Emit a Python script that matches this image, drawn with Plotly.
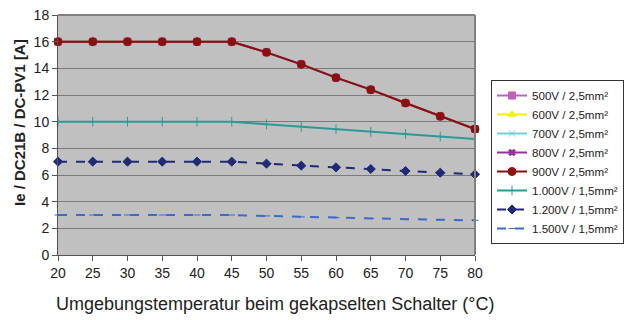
import plotly.graph_objects as go

temps = [20, 25, 30, 35, 40, 45, 50, 55, 60, 65, 70, 75, 80]
v500 = [16, 16, 16, 16, 16, 16, 15.2, 14.3, 13.3, 12.4, 11.4, 10.4, 9.45]
v600 = [16, 16, 16, 16, 16, 16, 15.2, 14.3, 13.3, 12.4, 11.4, 10.4, 9.45]
v700 = [16, 16, 16, 16, 16, 16, 15.2, 14.3, 13.3, 12.4, 11.4, 10.4, 9.45]
v800 = [16, 16, 16, 16, 16, 16, 15.2, 14.3, 13.3, 12.4, 11.4, 10.4, 9.45]
v900 = [16, 16, 16, 16, 16, 16, 15.2, 14.3, 13.3, 12.4, 11.4, 10.4, 9.45]
v1000 = [10, 10, 10, 10, 10, 10, 9.8, 9.62, 9.43, 9.24, 9.07, 8.88, 8.7]
v1200 = [7, 7, 7, 7, 7, 7, 6.85, 6.7, 6.57, 6.45, 6.3, 6.17, 6.05]
v1500 = [3, 3, 3, 3, 3, 3, 2.93, 2.86, 2.8, 2.74, 2.69, 2.64, 2.6]

names = ["500V / 2,5mm²", "600V / 2,5mm²", "700V / 2,5mm²", "800V / 2,5mm²",
         "900V / 2,5mm²", "1.000V / 1,5mm²", "1.200V / 1,5mm²", "1.500V / 1,5mm²"]
series = [v500, v600, v700, v800, v900, v1000, v1200, v1500]
colors = ["#C060C0", "#F0F000", "#70D0D8", "#993399", "#8B1010", "#2A9A98", "#1F2A78", "#3A6ACC"]
symbols = ["square", "triangle-up", "x-thin", "x", "circle", "line-ns", "diamond", "line-ew"]
sizes = [7, 7, 6, 6, 8, 7, 7, 5]
dashes = ["solid", "solid", "solid", "solid", "solid", "solid", "dash", "dash"]

fig = go.Figure()
for n, s, c, sym, sz, d in zip(names, series, colors, symbols, sizes, dashes):
    fig.add_trace(go.Scatter(
        x=temps, y=s, name=n, mode="lines+markers",
        line=dict(color=c, width=2, dash=d),
        marker=dict(symbol=sym, size=sz, color=c, line=dict(color=c, width=1)),
        cliponaxis=False,
    ))

fig.update_layout(
    width=631, height=320,
    margin=dict(l=58, r=156, t=15, b=65, autoexpand=False),
    paper_bgcolor="white", plot_bgcolor="#C0C0C0",
    font=dict(family="Liberation Sans, Arial", color="#222222"),
    showlegend=True,
    legend=dict(x=(491 - 58) / 417, y=(255 - 80) / 240, xanchor="left", yanchor="top",
                bordercolor="#333333", borderwidth=1, bgcolor="white",
                font=dict(size=11.6), tracegroupgap=0),
    xaxis=dict(range=[20, 80], tickvals=temps, ticks="outside", ticklen=5,
               tickcolor="#555555", tickfont=dict(size=14), showgrid=False,
               zeroline=False, showline=True, linecolor="#555555", mirror=False),
    yaxis=dict(range=[0, 18], dtick=2, ticks="outside", ticklen=5,
               tickcolor="#555555", tickfont=dict(size=14), showgrid=True,
               gridcolor="#7A7A7A", gridwidth=1, zeroline=False,
               showline=True, linecolor="#555555"),
    annotations=[
        dict(text="Umgebungstemperatur beim gekapselten Schalter (°C)",
             xref="paper", yref="paper", x=(275 - 58) / 417, y=-(304 - 255) / 240,
             xanchor="center", yanchor="middle", showarrow=False,
             font=dict(size=18, color="#222222")),
        dict(text="<b>Ie / DC21B / DC-PV1 [A]</b>", textangle=-90,
             xref="paper", yref="paper", x=-(58 - 20) / 417, y=(255 - 123) / 240,
             xanchor="center", yanchor="middle", showarrow=False,
             font=dict(size=15, color="#222222")),
    ],
    shapes=[
        dict(type="line", xref="paper", yref="paper", x0=0, x1=1, y0=1, y1=1,
             line=dict(color="#808080", width=2)),
        dict(type="line", xref="paper", yref="paper", x0=1, x1=1, y0=0, y1=1,
             line=dict(color="#808080", width=2)),
    ],
)

fig.write_html("out.html", config={"displayModeBar": False},
               post_script="document.body.style.margin='0';")
